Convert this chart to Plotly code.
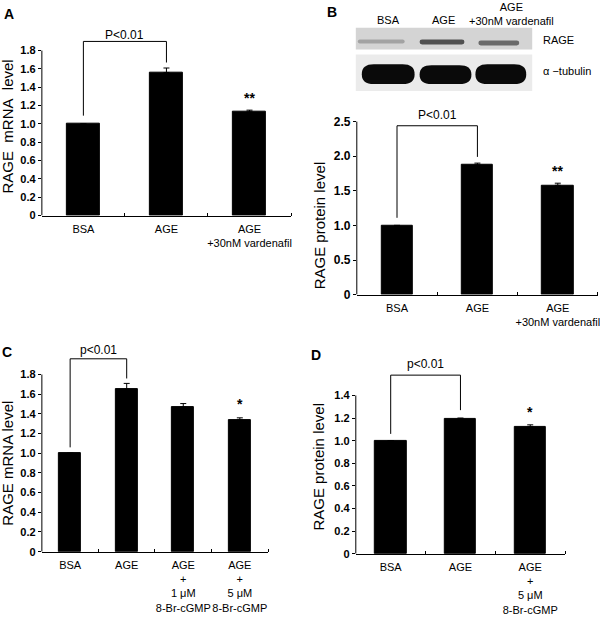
import plotly.graph_objects as go

W, H = 600, 617

# ---------------- data ----------------
# Panel A: RAGE mRNA (vardenafil)
a_labels = ["BSA", "AGE", "AGE<br>+30nM vardenafil"]
a_values = [1.0, 1.56, 1.13]
a_errors = [0.0, 0.05, 0.02]
a_ticks = [0, 0.2, 0.4, 0.6, 0.8, 1.0, 1.2, 1.4, 1.6, 1.8]
a_ticktext = ["0", "0.2", "0.4", "0.6", "0.8", "1.0", "1.2", "1.4", "1.6", "1.8"]
a_bracket = [1.09, 1.90, 1.90, 1.67]
a_sig = "P&lt;0.01"
a_star = "**"
a_star_y = 1.28

# Panel B: RAGE protein (vardenafil)
b_labels = ["BSA", "AGE", "AGE<br>+30nM vardenafil"]
b_values = [1.0, 1.87, 1.58]
b_errors = [0.0, 0.03, 0.03]
b_ticks = [0, 0.5, 1.0, 1.5, 2.0, 2.5]
b_ticktext = ["0", "0.5", "1.0", "1.5", "2.0", "2.5"]
b_bracket = [1.11, 2.44, 2.44, 1.99]
b_sig = "P&lt;0.01"
b_star = "**"
b_star_y = 1.79
blot_lanes = ["BSA", "AGE", "AGE<br>+30nM vardenafil"]
blot_rows = ["RAGE", "α −tubulin"]

# Panel C: RAGE mRNA (8-Br-cGMP)
c_labels = ["BSA", "AGE", "AGE<br>+<br>1 μM<br>8-Br-cGMP", "AGE<br>+<br>5 μM<br>8-Br-cGMP"]
c_values = [1.0, 1.65, 1.47, 1.335]
c_errors = [0.0, 0.06, 0.035, 0.025]
c_ticks = [0, 0.2, 0.4, 0.6, 0.8, 1.0, 1.2, 1.4, 1.6, 1.8]
c_ticktext = ["0", "0.2", "0.4", "0.6", "0.8", "1.0", "1.2", "1.4", "1.6", "1.8"]
c_bracket = [1.06, 1.96, 1.96, 1.76]
c_sig = "p&lt;0.01"
c_star = "*"
c_star_y = 1.50

# Panel D: RAGE protein (8-Br-cGMP)
d_labels = ["BSA", "AGE", "AGE<br>+<br>5 μM<br>8-Br-cGMP"]
d_values = [1.0, 1.19, 1.12]
d_errors = [0.0, 0.01, 0.02]
d_ticks = [0, 0.2, 0.4, 0.6, 0.8, 1.0, 1.2, 1.4]
d_ticktext = ["0", "0.2", "0.4", "0.6", "0.8", "1.0", "1.2", "1.4"]
d_bracket = [1.06, 1.58, 1.58, 1.27]
d_sig = "p&lt;0.01"
d_star = "*"
d_star_y = 1.25

FONT = "Liberation Sans, Arial, sans-serif"


def px(x):
    return x / W


def py(y):
    return 1 - y / H


fig = go.Figure()
annotations = []
shapes = []

panels = [
    dict(s="", labels=a_labels, values=a_values, errors=a_errors, ticks=a_ticks,
         ticktext=a_ticktext, bracket=a_bracket, sig=a_sig, sig_y=1.97, star=a_star,
         star_y=a_star_y, xd=(42, 292), yd=(28, 218), ytop=2.05, bw=0.40, tfs=11,
         title="RAGE\u00a0 mRNA\u00a0 level", tpos=(8, 128)),
    dict(s="2", labels=b_labels, values=b_values, errors=b_errors, ticks=b_ticks,
         ticktext=b_ticktext, bracket=b_bracket, sig=b_sig, sig_y=2.59, star=b_star,
         star_y=b_star_y, xd=(358, 600), yd=(109, 298), ytop=2.7, bw=0.39, tfs=12,
         title="RAGE protein level", tpos=(320, 228)),
    dict(s="3", labels=c_labels, values=c_values, errors=c_errors, ticks=c_ticks,
         ticktext=c_ticktext, bracket=c_bracket, sig=c_sig, sig_y=2.05, star=c_star,
         star_y=c_star_y, xd=(42, 269), yd=(344, 558), ytop=2.15, bw=0.39, tfs=11,
         title="RAGE mRNA level", tpos=(8, 468)),
    dict(s="4", labels=d_labels, values=d_values, errors=d_errors, ticks=d_ticks,
         ticktext=d_ticktext, bracket=d_bracket, sig=d_sig, sig_y=1.68, star=d_star,
         star_y=d_star_y, xd=(357, 567), yd=(360, 560), ytop=1.75, bw=0.45, tfs=11,
         title="RAGE protein level", tpos=(320, 472)),
]

layout_axes = {}
for p in panels:
    s = p["s"]
    n = len(p["values"])
    xs = list(range(n))
    xa, ya = "x" + s, "y" + s
    fig.add_trace(go.Bar(
        x=xs, y=p["values"], width=p["bw"], xaxis=xa, yaxis=ya,
        marker=dict(color="black", line=dict(color="black", width=1)),
        error_y=dict(type="data", symmetric=False, array=p["errors"],
                     arrayminus=[0] * n, color="black", thickness=1, width=3),
        showlegend=False, hoverinfo="skip"))
    fig.add_trace(go.Scatter(
        x=[0, 0, 1, 1], y=p["bracket"], mode="lines", xaxis=xa, yaxis=ya,
        line=dict(color="black", width=1), showlegend=False, hoverinfo="skip"))
    layout_axes["xaxis" + s] = dict(
        domain=[px(p["xd"][0]), px(p["xd"][1])], anchor=ya, range=[-0.5, n - 0.5],
        tickvals=xs, ticktext=p["labels"], ticks="", showline=True, linecolor="black",
        linewidth=1, showgrid=False, zeroline=False, fixedrange=True,
        ticklabeloverflow="allow", ticklabelstandoff=3, tickangle=0,
        tickfont=dict(family=FONT, size=11, color="black"),
        minor=dict(tickvals=[i + 0.5 for i in range(n)], ticks="inside", ticklen=3,
                   tickcolor="black", tickwidth=1, showgrid=False))
    layout_axes["yaxis" + s] = dict(
        domain=[py(p["yd"][1]), py(p["yd"][0])], anchor=xa, range=[0, p["ytop"]],
        tickvals=p["ticks"], ticktext=p["ticktext"], ticks="outside", ticklen=3,
        tickcolor="black", tickwidth=1, showline=False, showgrid=False, zeroline=False,
        fixedrange=True,
        tickfont=dict(family=FONT, size=p["tfs"], color="black", weight="bold"))
    shapes.append(dict(type="line", xref=xa + " domain", yref=ya, x0=0, x1=0,
                       y0=0, y1=p["ticks"][-1], line=dict(color="black", width=1)))
    annotations.append(dict(x=0.5, y=p["sig_y"], xref=xa, yref=ya, text=p["sig"],
                            xanchor="center", yanchor="middle",
                            showarrow=False, font=dict(family=FONT, size=12, color="black")))
    annotations.append(dict(x=n - 1, y=p["star_y"], xref=xa, yref=ya, text=p["star"],
                            xanchor="center", yanchor="middle", showarrow=False,
                            font=dict(family=FONT, size=14, color="black", weight="bold")))
    annotations.append(dict(x=px(p["tpos"][0]), y=py(p["tpos"][1]), xref="paper",
                            yref="paper", text=p["title"], textangle=-90, showarrow=False,
                            xanchor="center", yanchor="middle",
                            font=dict(family=FONT, size=15, color="black")))

# panel letters
for letter, (lx, ly) in zip(["A", "B", "C", "D"], [(9, 14), (333, 12), (7, 356), (317, 359)]):
    annotations.append(dict(x=px(lx), y=py(ly), xref="paper", yref="paper", text=letter,
                            xanchor="center", yanchor="middle", showarrow=False,
                            font=dict(family=FONT, size=14, color="black", weight="bold")))

# western blot (panel B)
shapes.append(dict(type="rect", xref="paper", yref="paper", x0=px(357), x1=px(534),
                   y0=py(50), y1=py(28), fillcolor="#d4d4d4", line=dict(width=0), layer="below"))
shapes.append(dict(type="rect", xref="paper", yref="paper", x0=px(357), x1=px(534),
                   y0=py(92), y1=py(55), fillcolor="#ebebeb", line=dict(width=0), layer="below"))


def band(x0, x1, y0, y1, color, r=None):
    if r is None:
        r = (y1 - y0) / 2.0
    ym = (y0 + y1) / 2.0
    pts = (f"M {px(x0 + r)},{py(y0)} L {px(x1 - r)},{py(y0)} "
           f"Q {px(x1)},{py(y0)} {px(x1)},{py(ym)} Q {px(x1)},{py(y1)} {px(x1 - r)},{py(y1)} "
           f"L {px(x0 + r)},{py(y1)} Q {px(x0)},{py(y1)} {px(x0)},{py(ym)} "
           f"Q {px(x0)},{py(y0)} {px(x0 + r)},{py(y0)} Z")
    return dict(type="path", xref="paper", yref="paper", path=pts, fillcolor=color,
                line=dict(width=0))


shapes.append(band(359, 406, 40, 44, "#a3a3a3"))
shapes.append(band(421, 466, 40, 45, "#505050"))
shapes.append(band(480, 521, 41, 46, "#6a6a6a"))
shapes.append(band(363, 416, 65, 85, "#0a0a0a", r=12))
shapes.append(band(421, 473, 66, 85, "#0a0a0a", r=12))
shapes.append(band(477, 528, 65, 85, "#0a0a0a", r=12))

for lane, lx, ly in zip(blot_lanes, [390, 445, 513], [20, 20, 14]):
    annotations.append(dict(x=px(lx), y=py(ly), xref="paper", yref="paper", text=lane,
                            xanchor="center", yanchor="middle",
                            showarrow=False, font=dict(family=FONT, size=11, color="black")))
for row, ry in zip(blot_rows, [40, 72]):
    annotations.append(dict(x=px(543), y=py(ry), xref="paper", yref="paper", text=row,
                            xanchor="left", yanchor="middle", showarrow=False,
                            font=dict(family=FONT, size=11, color="black")))

fig.update_layout(
    width=W, height=H, margin=dict(l=0, r=0, t=0, b=0),
    paper_bgcolor="white", plot_bgcolor="white",
    annotations=annotations, shapes=shapes, bargap=0, **layout_axes)

fig.write_html("out.html", config={"displayModeBar": False},
               post_script="document.body.style.margin='0px';")
